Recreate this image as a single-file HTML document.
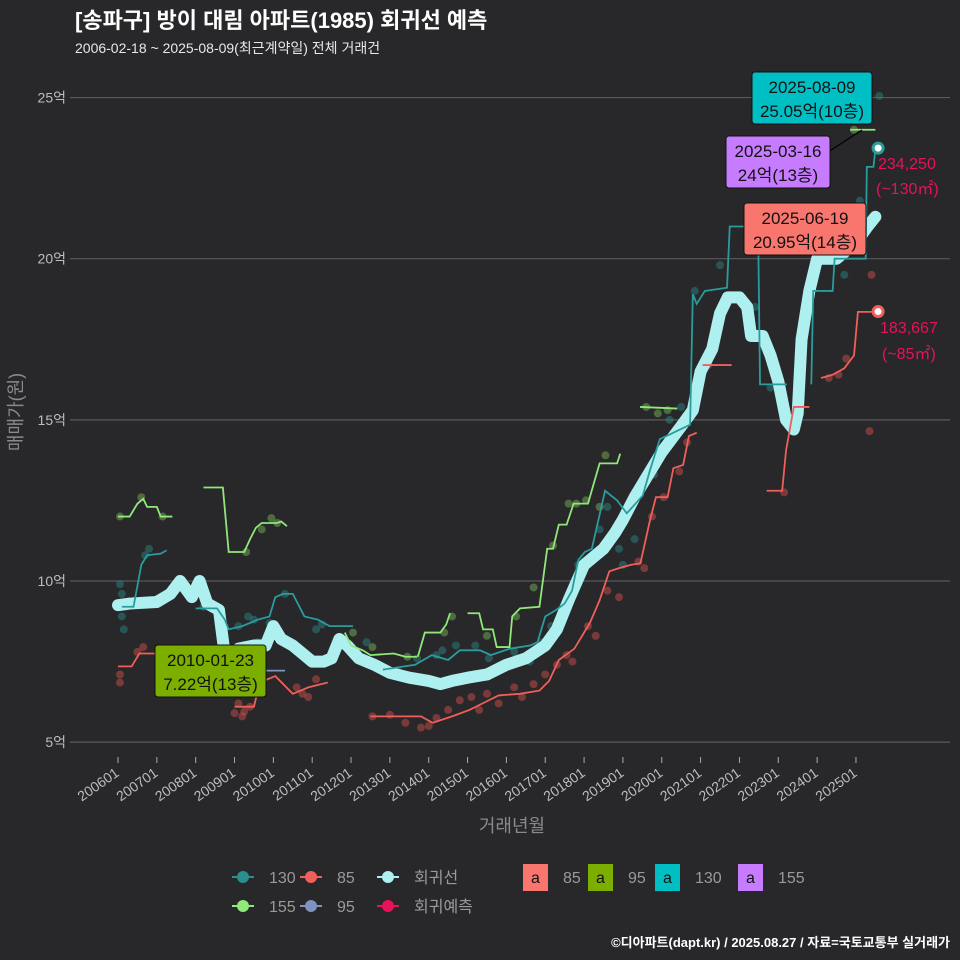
<!DOCTYPE html>
<html><head><meta charset="utf-8">
<style>
body{margin:0;background:#282729;}
svg{display:block;font-family:"Liberation Sans","Noto Sans CJK KR",sans-serif;}
</style></head>
<body>
<svg id="c" width="960" height="960" viewBox="0 0 960 960" xmlns="http://www.w3.org/2000/svg">
<rect width="960" height="960" fill="#282729"/>
<text x="75" y="28" fill="#ffffff" font-size="22" font-weight="bold">[송파구] 방이 대림 아파트(1985) 회귀선 예측</text>
<text x="75" y="53" fill="#e8e8e8" font-size="14">2006-02-18 ~ 2025-08-09(최근계약일) 전체 거래건</text>
<g id="grid"></g>
<g id="series"></g>
<g id="ann"></g>
<text x="0" y="0" transform="translate(22,412) rotate(-90)" text-anchor="middle" fill="#8a8a8a" font-size="18">매매가(원)</text>
<text x="512" y="832" text-anchor="middle" fill="#8a8a8a" font-size="18">거래년월</text>
<g id="legend"></g>
<text x="950" y="947" text-anchor="end" fill="#ffffff" font-size="13" font-weight="bold">©디아파트(dapt.kr) / 2025.08.27 / 자료=국토교통부 실거래가</text>
</svg>
<script>
const yTicks=[5,10,15,20,25];
const yTickLabels=["5억","10억","15억","20억","25억"];
const xTicks=[2006,2007,2008,2009,2010,2011,2012,2013,2014,2015,2016,2017,2018,2019,2020,2021,2022,2023,2024,2025];
const xTickLabels=["200601","200701","200801","200901","201001","201101","201201","201301","201401","201501","201601","201701","201801","201901","202001","202101","202201","202301","202401","202501"];
const regression=[[2006.0,9.25],[2006.3,9.3],[2007.0,9.35],[2007.35,9.6],[2007.6,10.0],[2007.9,9.5],[2008.1,10.0],[2008.3,9.3],[2008.6,9.1],[2008.75,7.7],[2008.9,7.5],[2009.1,7.9],[2009.5,8.0],[2009.8,8.0],[2010.0,8.6],[2010.2,8.2],[2010.5,8.0],[2010.8,7.7],[2011.0,7.5],[2011.3,7.5],[2011.5,7.6],[2011.7,8.2],[2011.9,8.0],[2012.2,7.6],[2012.6,7.4],[2013.0,7.15],[2013.5,7.0],[2014.0,6.9],[2014.3,6.8],[2014.6,6.9],[2015.0,7.0],[2015.5,7.1],[2016.0,7.4],[2016.5,7.6],[2017.0,8.0],[2017.3,8.5],[2017.6,9.4],[2018.0,10.5],[2018.5,11.0],[2018.8,11.5],[2019.0,11.9],[2019.3,12.6],[2019.6,13.2],[2020.0,14.0],[2020.5,14.8],[2020.8,15.3],[2021.0,16.5],[2021.3,17.2],[2021.5,18.3],[2021.7,18.8],[2022.0,18.8],[2022.2,18.5],[2022.3,17.6],[2022.6,17.6],[2022.8,17.0],[2023.0,16.2],[2023.2,15.0],[2023.4,14.7],[2023.5,15.2],[2023.6,17.5],[2023.8,19.0],[2024.0,20.0],[2024.5,20.0],[2024.8,20.3],[2025.0,20.5],[2025.3,21.0],[2025.5,21.3]];
const s85=[
[[2006.0,7.35],[2006.35,7.35],[2006.55,7.75],[2007.0,7.75]],
[[2009.0,6.1],[2009.5,6.1],[2009.65,6.85],[2010.05,7.05],[2010.5,6.5],[2010.9,6.7],[2011.4,6.85]],
[[2012.5,5.8],[2013.8,5.8],[2014.1,5.6],[2014.6,5.8],[2015.05,6.0],[2015.55,6.3],[2015.8,6.45],[2016.35,6.5],[2016.85,6.6],[2017.1,6.9],[2017.35,7.55],[2017.75,7.9],[2018.15,8.7],[2018.4,9.4],[2018.65,10.3],[2018.9,10.4],[2019.2,10.5],[2019.45,10.55],[2019.7,11.9],[2019.85,12.6],[2020.15,12.6],[2020.3,13.5],[2020.55,13.6],[2020.7,14.5],[2020.9,14.6]],
[[2021.05,16.7],[2021.8,16.7]],
[[2022.7,12.8],[2023.1,12.8],[2023.2,14.05],[2023.4,15.4],[2023.8,15.4]],
[[2024.1,16.3],[2024.4,16.4],[2024.7,16.6],[2024.95,17.0],[2025.05,18.35],[2025.57,18.35]]];
const s130=[
[[2006.1,9.2],[2006.4,9.2],[2006.6,10.5],[2006.75,10.8],[2007.1,10.85],[2007.25,10.95]],
[[2008.0,9.15],[2008.55,9.15],[2008.75,8.8],[2008.85,8.5],[2009.2,8.6],[2009.6,8.8],[2009.9,8.9],[2010.05,9.5],[2010.25,9.6],[2010.5,9.6],[2010.8,8.9],[2011.15,8.8],[2011.45,8.6],[2012.05,8.6]],
[[2012.82,7.25],[2013.65,7.4],[2014.08,7.7],[2014.5,7.55],[2014.8,7.85],[2015.32,7.85],[2015.6,7.7],[2016.09,7.9],[2016.61,8.0],[2016.8,8.1],[2017.0,8.9],[2017.28,9.1],[2017.5,9.3],[2017.69,9.7],[2017.85,10.65],[2018.02,10.9],[2018.2,11.0],[2018.54,12.8],[2018.85,12.5],[2019.1,12.1],[2019.51,12.65],[2019.7,13.45],[2019.95,14.4],[2020.3,14.6],[2020.73,14.85],[2020.8,18.9],[2020.9,18.6],[2021.11,19.0],[2021.68,19.1],[2021.75,21.0],[2022.48,21.0],[2022.53,16.1],[2023.22,16.1]],
[[2023.85,16.1],[2023.9,19.0],[2024.4,19.0],[2024.45,20.0],[2025.25,20.0],[2025.28,22.85],[2025.45,22.85],[2025.5,23.4],[2025.57,23.4]]];
const s155=[
[[2006.0,12.0],[2006.3,12.0],[2006.5,12.4],[2006.65,12.55],[2006.75,12.3],[2007.0,12.3],[2007.1,12.0],[2007.4,12.0]],
[[2008.2,12.9],[2008.7,12.9],[2008.85,10.9],[2009.25,10.9],[2009.4,11.3],[2009.55,11.65],[2009.7,11.8],[2010.1,11.8],[2010.2,11.85],[2010.35,11.7]],
[[2011.84,8.4],[2012.0,8.0],[2012.3,7.85],[2012.5,7.7],[2013.1,7.75],[2013.4,7.65],[2013.7,7.65]],
[[2013.72,7.65],[2013.9,8.4],[2014.3,8.4],[2014.45,8.65],[2014.55,9.0]],
[[2015.0,9.0],[2015.3,9.0],[2015.4,8.5],[2015.65,8.5],[2015.75,7.95],[2016.08,7.95],[2016.15,8.9],[2016.35,9.15],[2016.85,9.2],[2017.05,11.0],[2017.2,11.0],[2017.35,11.75],[2017.55,11.75],[2017.73,12.4],[2018.1,12.4],[2018.4,13.65],[2018.85,13.65],[2018.93,13.95]],
[[2019.44,15.4],[2020.4,15.35]],
[[2024.85,24.0],[2025.5,24.0]]];
const s95=[[[2009.8,7.22],[2010.3,7.22]]];
const d130=[[2006.05,9.9],[2006.1,8.9],[2006.15,8.5],[2006.1,9.6],[2006.7,10.8],[2006.8,11.0],[2008.2,9.2],[2009.1,8.6],[2009.35,8.9],[2009.5,8.8],[2009.9,8.7],[2009.6,8.1],[2010.3,9.6],[2011.1,8.5],[2011.25,8.65],[2012.4,8.1],[2013.2,7.2],[2013.7,7.6],[2014.2,7.7],[2014.35,7.85],[2014.7,8.0],[2015.2,8.0],[2015.55,7.6],[2016.2,7.8],[2016.6,7.5],[2016.9,8.1],[2017.15,8.6],[2017.45,9.2],[2017.85,10.5],[2018.4,11.6],[2018.6,12.3],[2018.9,11.0],[2019.0,10.5],[2019.3,11.3],[2019.8,13.3],[2020.2,15.0],[2020.5,15.4],[2020.85,19.0],[2021.5,19.8],[2022.4,18.5],[2022.8,16.0],[2024.3,20.0],[2024.7,19.5],[2025.1,21.8],[2025.6,25.05]];
const d85=[[2006.05,7.1],[2006.05,6.85],[2006.5,7.8],[2006.65,7.95],[2009.1,6.2],[2009.2,5.8],[2009.25,5.95],[2009.0,5.9],[2009.4,6.1],[2010.6,6.7],[2010.75,6.5],[2010.9,6.4],[2011.1,6.95],[2012.55,5.8],[2013.0,5.85],[2013.4,5.6],[2013.8,5.45],[2014.0,5.5],[2014.2,5.75],[2014.5,6.0],[2014.8,6.3],[2015.1,6.4],[2015.3,6.0],[2015.5,6.5],[2015.8,6.2],[2016.2,6.7],[2016.4,6.4],[2016.7,6.8],[2017.0,7.1],[2017.3,7.4],[2017.55,7.7],[2017.7,7.5],[2018.1,8.6],[2018.3,8.3],[2018.6,9.7],[2018.9,9.5],[2019.4,10.6],[2019.55,10.4],[2019.75,12.0],[2020.05,12.6],[2020.45,13.4],[2020.65,14.3],[2021.2,16.7],[2023.15,12.75],[2024.3,16.3],[2024.55,16.4],[2024.75,16.9],[2025.4,19.5],[2025.35,14.65]];
const d155=[[2006.05,12.0],[2006.6,12.6],[2007.15,12.0],[2009.3,10.9],[2009.7,11.6],[2009.95,11.95],[2010.1,11.8],[2012.05,8.4],[2012.55,7.95],[2013.45,7.65],[2014.4,8.4],[2014.6,8.9],[2015.5,8.3],[2016.25,8.9],[2016.7,9.8],[2017.2,11.1],[2017.6,12.4],[2017.8,12.4],[2018.05,12.5],[2018.4,12.3],[2018.55,13.9],[2019.6,15.4],[2019.9,15.2],[2020.15,15.3],[2024.95,24.0]];
const pred130=[2025.57,23.43];
const pred85=[2025.57,18.36];

const NS="http://www.w3.org/2000/svg";
const X=t=>118+(t-2006)*38.84;
const Y=v=>581-(v-10)*32.23;
function mk(tag,attrs,parent){const e=document.createElementNS(NS,tag);for(const k in attrs)e.setAttribute(k,attrs[k]);parent.appendChild(e);return e;}
const grid=document.getElementById('grid');
yTicks.forEach((v,i)=>{
  const l=mk('line',{x1:70,x2:950,y1:Y(v),y2:Y(v),stroke:'#5a5a5a','stroke-width':1.2},grid);
  
  
  const t=mk('text',{x:66,y:Y(v)+5,'text-anchor':'end',fill:'#bdbdbd','font-size':14},grid);
  t.textContent=yTickLabels[i];
  
  
});
xTicks.forEach((tk,i)=>{
  const x=X(tk);
  const l=mk('line',{x1:x,x2:x,y1:757,y2:763,stroke:'#aaa','stroke-width':1},grid);
  
  
  const t=mk('text',{x:0,y:0,transform:`translate(${x+2},${775}) rotate(-35)`,'text-anchor':'end',fill:'#bdbdbd','font-size':14},grid);
  t.textContent=xTickLabels[i];
  
  
});
const sg=document.getElementById('series');
function dots(arr,col,name){arr.forEach(p=>{const c=mk('circle',{cx:X(p[0]),cy:Y(p[1]),r:4,fill:col,'fill-opacity':0.45},sg);
  
  });}
function lines(segs,col,name){segs.forEach(s=>{const p=mk('polyline',{points:s.map(q=>X(q[0])+','+Y(q[1])).join(' '),fill:'none',stroke:col,'stroke-width':1.8},sg);
  
  });}
dots(d130,'#2a8f8f','dot-130');
dots(d85,'#d9554f','dot-85');
dots(d155,'#7fbf60','dot-155');
const rl=mk('polyline',{points:regression.map(q=>X(q[0])+','+Y(q[1])).join(' '),fill:'none',stroke:'#aef0f0','stroke-width':12,'stroke-linejoin':'round','stroke-linecap':'round'},sg);


lines(s130,'#2a9c9e','line-130');
lines(s85,'#f0605a','line-85');
lines(s155,'#90e87a','line-155');
lines(s95,'#7f93c0','line-95');
const p1=mk('circle',{cx:X(pred130[0]),cy:Y(pred130[1]),r:5,fill:'#fff',stroke:'#2a9c9e','stroke-width':3},sg);


const p2=mk('circle',{cx:X(pred85[0]),cy:Y(pred85[1]),r:5,fill:'#fff',stroke:'#f0605a','stroke-width':3},sg);


</script>
<svg width="0" height="0"></svg>
<script>
const ann=document.getElementById('ann');
const NS2="http://www.w3.org/2000/svg";
function mk2(tag,attrs,parent){const e=document.createElementNS(NS2,tag);for(const k in attrs)e.setAttribute(k,attrs[k]);parent.appendChild(e);return e;}
const cl=mk2('line',{x1:828,y1:152,x2:862,y2:130,stroke:'#000','stroke-width':1.3},ann);


function box(x,y,w,h,col,l1,l2,name){
  const g=mk2('g',{},ann);
  
  
  mk2('rect',{x:x,y:y,width:w,height:h,rx:3,fill:col,stroke:'#111','stroke-width':1},g);
  const a=mk2('text',{x:x+w/2,y:y+21,'text-anchor':'middle','font-size':17,fill:'#111'},g);a.textContent=l1;
  const b=mk2('text',{x:x+w/2,y:y+45,'text-anchor':'middle','font-size':17,fill:'#111'},g);b.textContent=l2;
}
box(752,72,120,52,'#00bfc4','2025-08-09','25.05억(10층)','label-max-130');
box(726,136,104,52,'#c77cff','2025-03-16','24억(13층)','label-155');
box(744,203,122,52,'#f8766d','2025-06-19','20.95억(14층)','label-85');
box(155,645,111,52,'#7cae00','2010-01-23','7.22억(13층)','label-95');
[[878,169,'234,250','pred-label-130-price'],[876,194,'(~130㎡)','pred-label-130-area'],[880,333,'183,667','pred-label-85-price'],[882,359,'(~85㎡)','pred-label-85-area']].forEach(r=>{
  const t=mk2('text',{x:r[0],y:r[1],fill:'#e8125a','font-size':16},ann);t.textContent=r[2];
  
  
});
const lg=document.getElementById('legend');
[[243,877,'#2a8f8f','130'],[311,877,'#f0605a','85'],[388,877,'#aef0f0','회귀선'],[243,906,'#90e87a','155'],[311,906,'#7f93c0','95'],[388,906,'#e8125a','회귀예측']].forEach(r=>{
  const g=mk2('g',{},lg);
  
  
  mk2('line',{x1:r[0]-11,x2:r[0]+11,y1:r[1],y2:r[1],stroke:r[2],'stroke-width':2},g);
  mk2('circle',{cx:r[0],cy:r[1],r:6,fill:r[2]},g);
  const t=mk2('text',{x:r[0]+26,y:r[1]+6,fill:'#9a9a9a','font-size':16},g);t.textContent=r[3];
});
[[523,'#f8766d','85'],[588,'#7cae00','95'],[655,'#00bfc4','130'],[738,'#c77cff','155']].forEach(r=>{
  const g=mk2('g',{},lg);
  
  
  mk2('rect',{x:r[0],y:864,width:25,height:27,fill:r[1]},g);
  const a=mk2('text',{x:r[0]+12.5,y:883,'text-anchor':'middle','font-size':16,fill:'#111'},g);a.textContent='a';
  const t=mk2('text',{x:r[0]+40,y:883,fill:'#9a9a9a','font-size':16},g);t.textContent=r[2];
});
</script>
</body></html>
